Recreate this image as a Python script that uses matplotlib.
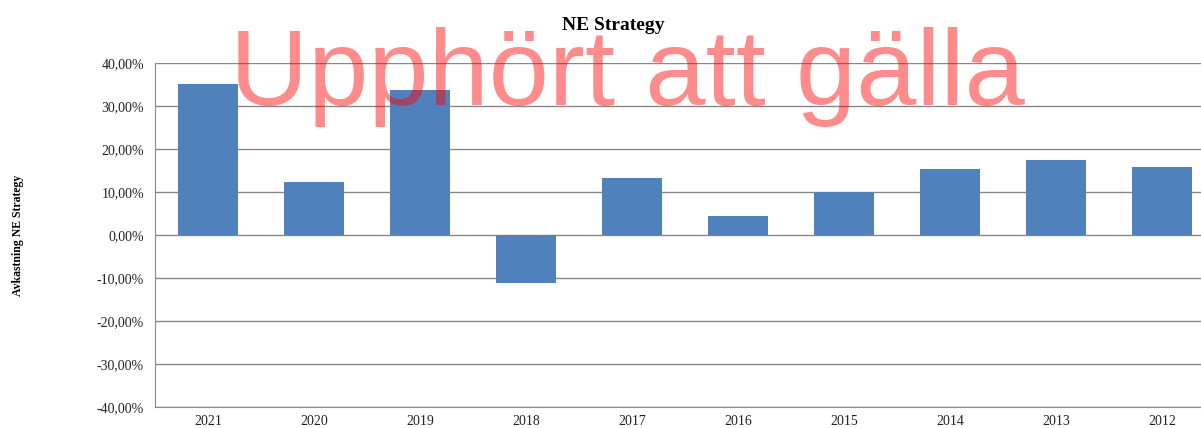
import matplotlib
matplotlib.use("Agg")
import matplotlib.pyplot as plt
from matplotlib.ticker import FuncFormatter

years = ["2021", "2020", "2019", "2018", "2017", "2016", "2015", "2014", "2013", "2012"]
returns = [35.2, 12.3, 33.7, -11.2, 13.2, 4.5, 10.0, 15.3, 17.4, 15.8]
yticks = [-40, -30, -20, -10, 0, 10, 20, 30, 40]

plt.rcParams['font.family'] = ['Liberation Serif', 'DejaVu Serif']

W, H = 1201, 428
fig = plt.figure(figsize=(W / 100, H / 100), dpi=100)
ax = fig.add_axes([155 / W, 21 / H, 1060 / W, 344 / H])

x = range(len(years))
ax.bar(x, returns, width=0.57, color="#4F81BD", zorder=3)
ax.set_xlim(-0.5, len(years) - 0.5)
ax.set_ylim(-40, 40)
ax.set_yticks(yticks)
ax.yaxis.set_major_formatter(FuncFormatter(lambda v, p: f"{v:.2f}%".replace(".", ",")))
ax.set_xticks(list(x))
ax.set_xticklabels(years)
ax.grid(axis="y", color="#888888", linewidth=1, zorder=0)
ax.tick_params(axis="y", length=0, labelsize=10, colors="#222222", pad=8)
ax.tick_params(axis="x", length=0, labelsize=10, colors="#222222", pad=6)
for s in ["top", "right"]:
    ax.spines[s].set_visible(False)
ax.spines["left"].set_color("#888888")
ax.spines["bottom"].set_color("#888888")

fig.text(613 / W, 1 - 25 / H, "NE Strategy", ha="center", va="center",
         fontsize=14, fontweight="bold")
fig.text(18 / W, 1 - 235 / H, "Avkastning NE Strategy", rotation=90,
         ha="center", va="center", fontsize=8.5, fontweight="bold")

# watermark
fig.text(627 / W, 1 - 105 / H, "Upphört att gälla", ha="center", va="baseline",
         fontsize=78, color="#FF0000", alpha=0.45, family=["Liberation Sans", "DejaVu Sans"],
         zorder=10)

fig.savefig("out.png", dpi=100)
